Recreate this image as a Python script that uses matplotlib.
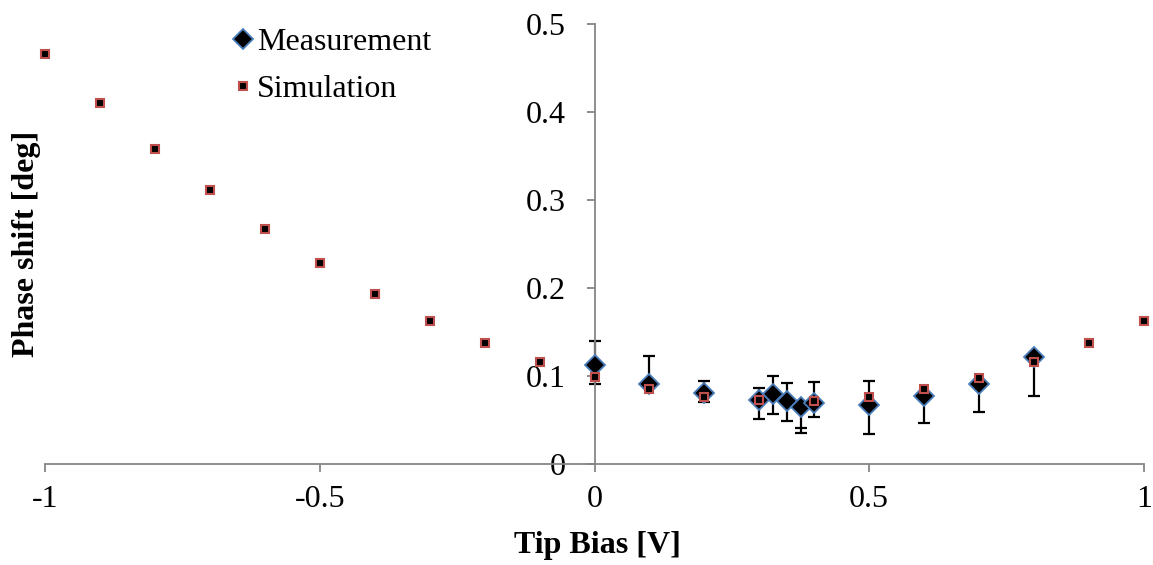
import numpy as np
import matplotlib
matplotlib.use('Agg')
import matplotlib.pyplot as plt

# ==================== 数据 ====================
sim_x = [-1.0, -0.9, -0.8, -0.7, -0.6, -0.5, -0.4, -0.3, -0.2, -0.1, 0.0,
         0.1, 0.2, 0.3, 0.4, 0.5, 0.6, 0.7, 0.8, 0.9, 1.0]
sim_y = [0.466, 0.410, 0.358, 0.311, 0.267, 0.228, 0.193, 0.1625, 0.1375, 0.116, 0.099,
         0.085, 0.076, 0.0725, 0.072, 0.076, 0.085, 0.098, 0.116, 0.1375, 0.1625]

meas_x = [0.0, 0.1, 0.2, 0.3, 0.325, 0.35, 0.375, 0.4, 0.5, 0.6, 0.7, 0.8]
meas_y = [0.1125, 0.091, 0.081, 0.0727, 0.0795, 0.0716, 0.065, 0.069, 0.067, 0.077, 0.091, 0.1215]
# 误差棒端点 (上/下)
meas_hi = [0.140, 0.1227, 0.094, 0.086, 0.100, 0.092, 0.041, 0.093, 0.094, 0.077, 0.091, 0.1215]
meas_lo = [0.091, 0.091, 0.0705, 0.051, 0.057, 0.049, 0.035, 0.053, 0.034, 0.0466, 0.059, 0.077]

x_ticks = [-1, -0.5, 0, 0.5, 1]
x_ticklabels = ['-1', '-0.5', '0', '0.5', '1']
y_ticks = [0, 0.1, 0.2, 0.3, 0.4, 0.5]
y_ticklabels = ['0', '0.1', '0.2', '0.3', '0.4', '0.5']

# ==================== 样式 ====================
plt.rcParams['font.family'] = ['Liberation Serif', 'DejaVu Serif']
FS = 23
AXIS_C = '#868686'
BLUE = '#4A7EBB'
RED = '#C0504D'

fig = plt.figure(figsize=(11.53, 5.65), dpi=100)
W, H = 1153, 565
ax = fig.add_axes([45 / W, 1 - 464 / H, (1144 - 45) / W, (464 - 24) / H])

ax.set_xlim(-1, 1)
ax.set_ylim(0, 0.5)

# 坐标轴: y 轴在 x=0 处
ax.spines['left'].set_position(('data', 0))
ax.spines['right'].set_visible(False)
ax.spines['top'].set_visible(False)
for s in ('left', 'bottom'):
    ax.spines[s].set_color(AXIS_C)
    ax.spines[s].set_linewidth(1.3)

ax.set_xticks(x_ticks)
ax.set_xticklabels(x_ticklabels)
ax.set_yticks(y_ticks)
ax.set_yticklabels(y_ticklabels)
ax.tick_params(axis='x', direction='out', length=6, width=1.3, color=AXIS_C,
               labelsize=FS, pad=9)
ax.tick_params(axis='y', direction='out', length=6, width=1.3, color=AXIS_C,
               labelsize=FS, pad=15)

# 误差棒
mx = np.array(meas_x)
my = np.array(meas_y)
hi = np.array(meas_hi)
lo = np.array(meas_lo)
ax.vlines(mx, np.minimum(lo, my), np.maximum(hi, my), color='black', linewidth=1.6, zorder=2)
ax.plot(mx, hi, linestyle='none', marker='_', markersize=9, markeredgewidth=1.6,
        color='black', zorder=2)
ax.plot(mx, lo, linestyle='none', marker='_', markersize=9, markeredgewidth=1.6,
        color='black', zorder=2)

ax.plot(mx, my, linestyle='none', marker='D', markersize=10, markerfacecolor='black',
        markeredgecolor=BLUE, markeredgewidth=1.3, zorder=3, label='Measurement',
        clip_on=False)
ax.plot(sim_x, sim_y, linestyle='none', marker='s', markersize=6, markerfacecolor='black',
        markeredgecolor=RED, markeredgewidth=1.5, zorder=4, label='Simulation',
        clip_on=False)

fig.legend(loc='upper left', bbox_to_anchor=(227 / W, 1 - 28 / H), frameon=False,
           fontsize=FS, handlelength=1.0, handletextpad=-0.05, labelspacing=0.55,
           borderpad=0, borderaxespad=0)

fig.text(27 / W, 1 - 244 / H, 'Phase shift [deg]', rotation=90, ha='center', va='center',
         fontsize=FS, fontweight='bold')
fig.text(597 / W, 1 - 545 / H, 'Tip Bias [V]', ha='center', va='center',
         fontsize=FS, fontweight='bold')

fig.savefig('out.png', dpi=100)
